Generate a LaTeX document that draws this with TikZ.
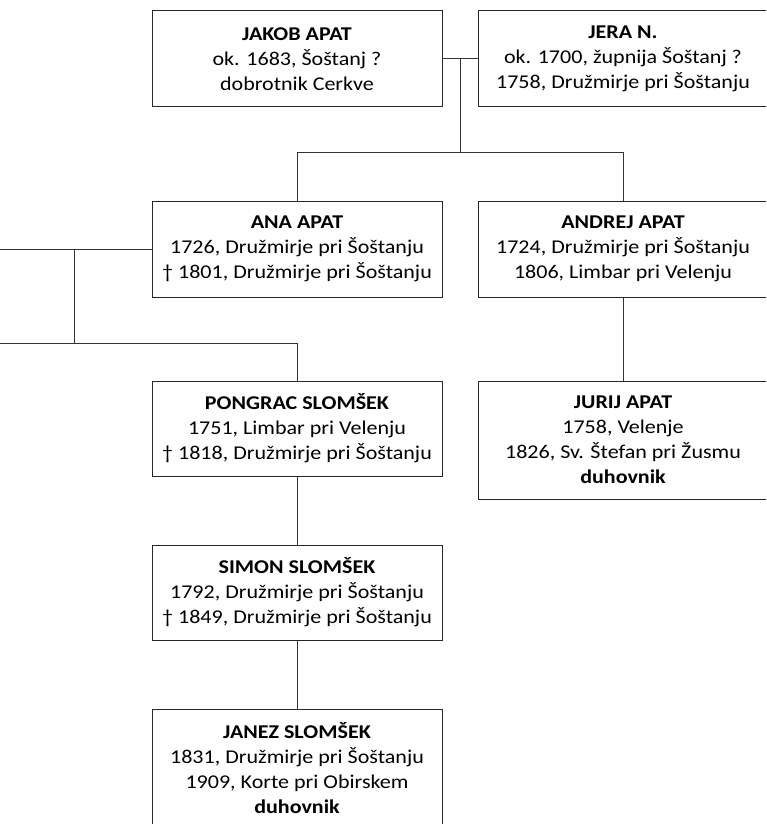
\documentclass[tikz,border=0pt]{standalone}
\usepackage{fontspec}
\setmainfont[FakeStretch=1.13]{Carlito}
\begin{document}
\begin{tikzpicture}[x=1pt,y=-1pt,
  person/.style={draw=black!85,line width=1pt,fill=white,minimum width=290pt,inner sep=0pt,align=center,
    font=\fontsize{19.5}{25}\selectfont},
  link/.style={draw=black!80,line width=1pt}]
\clip (0,0) rectangle (766,824);
\useasboundingbox (0,0) rectangle (766,824);
\node[person,minimum height=96pt] (jakob) at (297,59) {\textbf{JAKOB APAT}\\ok. 1683, Šoštanj ?\\dobrotnik Cerkve};
\node[person,minimum height=96pt] (jera) at (623,59) {\textbf{JERA N.}\\ok. 1700, župnija Šoštanj ?\\1758, Družmirje pri Šoštanju};
\node[person,minimum height=96pt] (ana) at (297,249) {\textbf{ANA APAT}\\1726, Družmirje pri Šoštanju\\† 1801, Družmirje pri Šoštanju};
\node[person,minimum height=96pt] (andrej) at (623,249) {\textbf{ANDREJ APAT}\\1724, Družmirje pri Šoštanju\\1806, Limbar pri Velenju};
\node[person,minimum height=95pt] (pongrac) at (297,428.5) {\textbf{PONGRAC SLOMŠEK}\\1751, Limbar pri Velenju\\† 1818, Družmirje pri Šoštanju};
\node[person,minimum height=118pt] (jurij) at (623,440) {\textbf{JURIJ APAT}\\1758, Velenje\\1826, Sv. Štefan pri Žusmu\\\textbf{duhovnik}};
\node[person,minimum height=95pt] (simon) at (297,592.5) {\textbf{SIMON SLOMŠEK}\\1792, Družmirje pri Šoštanju\\† 1849, Družmirje pri Šoštanju};
\node[person,minimum height=119pt] (janez) at (297,768.5) {\textbf{JANEZ SLOMŠEK}\\1831, Družmirje pri Šoštanju\\1909, Korte pri Obirskem\\\textbf{duhovnik}};
% marriage Jakob - Jera
\coordinate (m1) at (460,59);
\coordinate (m1d) at (460,152);
\coordinate (c1l) at (297,152);
\coordinate (c1r) at (623,152);
\draw[link] (jakob.east) -- (jera.west);
\draw[link] (m1) -- (m1d);
\draw[link] (c1l) -- (c1r);
\draw[link] (c1l) -- (ana.north);
\draw[link] (c1r) -- (andrej.north);
% marriage Ana - spouse (off picture)
\coordinate (sp) at (0,249);
\coordinate (m2) at (74,249);
\coordinate (m2d) at (74,343);
\coordinate (c2l) at (0,343);
\coordinate (c2r) at (297,343);
\draw[link] (ana.west) -- (sp);
\draw[link] (m2) -- (m2d);
\draw[link] (c2l) -- (c2r) -- (pongrac.north);
\draw[link] (andrej.south) -- (jurij.north);
\draw[link] (pongrac.south) -- (simon.north);
\draw[link] (simon.south) -- (janez.north);
\end{tikzpicture}
\end{document}
